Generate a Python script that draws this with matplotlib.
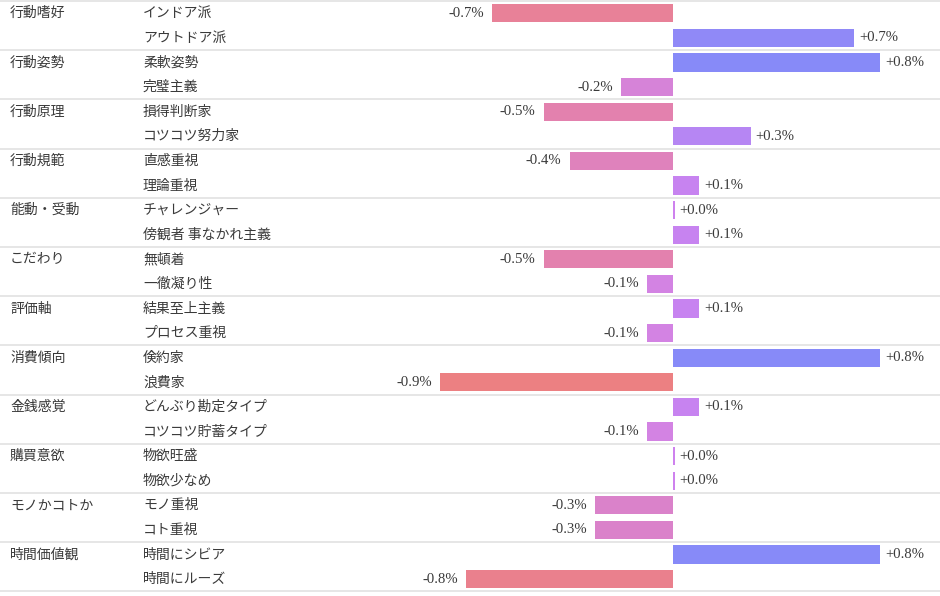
import numpy as np
import matplotlib
matplotlib.use("Agg")
import matplotlib.pyplot as plt
from matplotlib.colors import LinearSegmentedColormap

# data
groups = ["行動嗜好", "行動姿勢", "行動原理", "行動規範", "能動・受動", "こだわり",
          "評価軸", "消費傾向", "金銭感覚", "購買意欲", "モノかコトか", "時間価値観"]
items = ["インドア派", "アウトドア派",
         "柔軟姿勢", "完璧主義",
         "損得判断家", "コツコツ努力家",
         "直感重視", "理論重視",
         "チャレンジャー", "傍観者 事なかれ主義",
         "無頓着", "一徹凝り性",
         "結果至上主義", "プロセス重視",
         "倹約家", "浪費家",
         "どんぶり勘定タイプ", "コツコツ貯蓄タイプ",
         "物欲旺盛", "物欲少なめ",
         "モノ重視", "コト重視",
         "時間にシビア", "時間にルーズ"]
values = [-0.70, 0.70,
          0.80, -0.20,
          -0.50, 0.30,
          -0.40, 0.10,
          0.006, 0.10,
          -0.50, -0.10,
          0.10, -0.10,
          0.80, -0.90,
          0.10, -0.10,
          0.006, 0.006,
          -0.30, -0.30,
          0.80, -0.80]

W, H = 940, 596
zero_px = 673.0
px_per_unit = 258.5
row_px = 24.6
top_px = 1.0

fig = plt.figure(figsize=(W / 100, H / 100), dpi=100)
ax = fig.add_axes([0, 0, 1, 1])
ax.set_xlim(-zero_px / px_per_unit, (W - zero_px) / px_per_unit)
y_top = -0.5 - top_px / row_px
ax.set_ylim(y_top + H / row_px, y_top)
ax.axis("off")

# colour by value: red -> pink -> violet -> blue
anchors = [(-0.9, "#ec8082"), (-0.5, "#e381ae"), (-0.2, "#d683d8"),
           (0.0, "#cf82ee"), (0.3, "#b686f3"), (0.8, "#878af8")]
lo, hi = anchors[0][0], anchors[-1][0]
cmap = LinearSegmentedColormap.from_list(
    "div", [((v - lo) / (hi - lo), c) for v, c in anchors])

jp = ["Noto Sans CJK JP", "DejaVu Sans"]
num_font = "Liberation Serif"
txt_col = "#3a3a3a"

y = np.arange(len(items))
cols = [cmap((v - lo) / (hi - lo)) for v in values]
ax.barh(y, values, height=0.745, color=cols, edgecolor="none")

xl = ax.get_xlim()
def px2x(p):
    return xl[0] + p / W * (xl[1] - xl[0])

for i, (lab, v) in enumerate(zip(items, values)):
    ax.text(px2x(143), i, lab, fontsize=10, family=jp, color=txt_col,
            va="center", ha="left")
    s = "{:+.1f}%".format(v)
    if v < 0:
        ax.text(v - 8 / px_per_unit, i, s, fontsize=10.6, family=num_font,
                color=txt_col, va="center", ha="right")
    else:
        ax.text(v + 5 / px_per_unit, i, s, fontsize=10.6, family=num_font,
                color=txt_col, va="center", ha="left")

for k, g in enumerate(groups):
    ax.text(px2x(10), 2 * k, g, fontsize=10, family=jp, color=txt_col,
            va="center", ha="left")

for k in range(len(groups) + 1):
    ax.axhline(2 * k - 0.5, color="#e6e6e6", lw=1.4, zorder=0)

fig.savefig("out.png", dpi=100, facecolor="white")
